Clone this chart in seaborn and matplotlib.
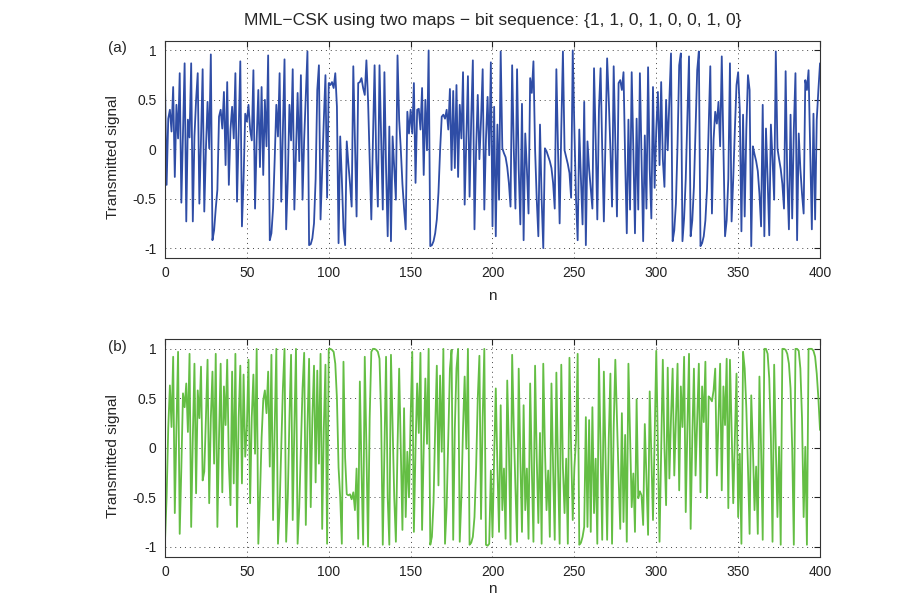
import numpy as np
import matplotlib
matplotlib.use("Agg")
import matplotlib.pyplot as plt
import seaborn as sns

# Transmitted MML-CSK samples, n = 0..400
signal_a = [
    0.67, -0.36, 0.31, 0.40, 0.18, 0.63, -0.28, 0.45, 0.11, 0.77,
    -0.54, 0.15, 0.87, -0.73, 0.30, 0.12, 0.87, -0.73, 0.13, 0.50,
    0.77, -0.55, 0.10, 0.81, -0.63, 0.00, 0.48, 0.01, 0.96, -0.92,
    -0.82, -0.60, -0.41, 0.33, 0.40, 0.21, 0.58, -0.16, 0.68, -0.36,
    0.20, 0.43, 0.11, 0.77, -0.53, 0.20, 0.89, -0.78, -0.30, 0.36,
    0.28, 0.45, 0.20, 0.09, 0.80, -0.60, 0.10, 0.60, -0.18, 0.63,
    -0.26, 0.50, 0.03, 0.95, -0.92,
    -0.85, -0.60, -0.10, 0.45, 0.13, 0.77, -0.53, 0.20, 0.91, -0.81,
    -0.30, 0.45, 0.09, 0.81, -0.61, 0.00, 0.57, -0.12, 0.75, -0.51,
    0.10, 0.55, 0.99, -0.97, -0.96, -0.90, -0.75, -0.30, 0.60, 0.85,
    -0.71, -0.20, 0.30, 0.75, -0.49, 0.67, 0.65, 0.68, 0.62, 0.77,
    0.43, -0.95, 0.13, -0.30, -0.80, -0.97, 0.08, -0.15, -0.35, -0.58,
    0.84, 0.10, -0.68, 0.67, 0.68, 0.72, 0.62, 0.55, 0.90, 0.50,
    -0.10, -0.71, 0.10, 0.85, -0.10, -0.58, 0.85,
    0.10, -0.61, 0.78, -0.20, -0.88, 0.23, -0.93, 0.13, -0.20, -0.51,
    0.95, 0.30, 0.00, -0.35, -0.60, -0.81, 0.38, 0.16, 0.40, 0.16,
    0.67, -0.34, 0.40, 0.41, 0.20, 0.62, -0.26, 0.50, -0.01, 1.00,
    -0.98, -0.97, -0.93, -0.85, -0.71, -0.44, -0.01, 0.33, 0.35, 0.31,
    0.40, 0.20, 0.61, -0.21, 0.59, -0.19, 0.65, -0.28, 0.45, 0.11,
    0.78, -0.56, 0.10, 0.74, -0.48, 0.30, 0.90, -0.81, 0.00, 0.55,
    -0.10, 0.30, 0.81, -0.61, 0.10, 0.53, -0.06, 0.88, -0.78, 0.43,
    -0.88, 0.25, -0.51, 0.99, 0.01, -0.04, -0.08, -0.18, -0.34, -0.58,
    0.85, 0.00, -0.60, 0.81, -0.20, -0.76, 0.46, -0.92, 0.16, -0.20,
    -0.65, 0.72, 0.57, 0.89, 0.00, -0.50, -0.88, 0.25, -0.50, -1.00,
    0.01, -0.02, -0.07, -0.12, -0.19, -0.34, -0.60, 0.81, 0.00, -0.75,
    0.20, 0.99, -0.01, -0.08, -0.15, -0.24, -0.49, 1.00, 0.20, -0.50,
    -0.92, 0.20, -0.30, -0.76, 0.48, -0.97, 0.08, -0.20, -0.40, -0.60,
    0.82, 0.10, -0.71, 0.40, 0.82, 0.00, -0.73,
    0.10, 0.92, 0.50, 0.00, -0.58, 0.84, 0.10, -0.68, 0.67, 0.70,
    0.60, 0.78, -0.10, -0.85, 0.30, -0.61, 0.78, 0.00, -0.85, 0.31,
    -0.61, 0.77, -0.10, -0.93, 0.14, -0.60, 0.83, -0.20, -0.70, 0.63,
    -0.39, 0.20, 0.58, -0.16, 0.68, -0.10, -0.38, 0.50, -0.01, 0.50,
    0.97, -0.93, -0.82, -0.55, 0.05, 0.85, 0.97, -0.93, -0.70, -0.30,
    0.30, 0.94, -0.88, -0.72, -0.38, 0.20, 0.80, 0.99, -0.98, -0.95,
    -0.88, -0.72, -0.40, 0.20, 0.84, -0.65,
    0.10, 0.38, 0.26, 0.48, 0.03, 0.94, 0.00, -0.88, -0.72, -0.30,
    0.87, -0.73, -0.30, 0.20, 0.65, 0.78, 0.40, -0.83, 0.35, -0.68,
    0.20, 0.75, 0.60, -0.98, 0.03, -0.05, -0.12, -0.22, -0.45, -0.78,
    0.45, -0.88, 0.21, -0.30, -0.87, 0.25, -0.10, -0.51, 0.99, 0.01,
    -0.10, -0.20, -0.35, -0.60, 0.79, -0.30, -0.81, 0.35, -0.70, 0.20,
    0.77, -0.92, 0.16, -0.20, -0.45, -0.65, 0.70, 0.60, 0.80, 0.00,
    -0.81, 0.36, -0.71, 0.30, 0.60, 0.87,
]

signal_b = [
    -0.95, -0.50, 0.20, 0.63, 0.21, 0.92, -0.66, 0.20, 0.97, -0.87,
    -0.20, 0.55, 0.41, 0.65, 0.16, 0.95, -0.80, 0.10, 0.85, -0.46,
    0.58, 0.30, 0.82, -0.33, -0.24, 0.30, 0.89, -0.56, 0.30, 0.77,
    -0.16, 0.95, -0.80, 0.10, 0.85, -0.45, 0.62, 0.23, 0.89, -0.16,
    -0.58, 0.77, -0.36, 0.95, -0.80, 0.30, 0.83, -0.36, 0.74, -0.09,
    0.20, 0.89, -0.56, 0.31, 0.74, -0.06, 1.00, -0.97, -0.50, 0.10,
    0.48, 0.58, 0.35, 0.77, -0.19, 0.94, -0.73,
    0.20, 1.00, -0.97, -0.60, 0.00, 0.60, 1.00, -0.95, -0.50, 0.30,
    0.94, -0.73, 0.20, 1.00, -0.97, -0.60, 0.00, 0.60, 0.96, -0.78,
    0.20, 0.90, -0.60, 0.30, 0.83, -0.35, 0.78, -0.16, 0.95, -0.82,
    0.20, 0.84, -0.97, 1.00, 1.00, 0.99, 0.97, 0.85, 0.50, -0.20,
    -0.50, -0.97, 0.87, -0.10, -0.47, -0.48, -0.47, -0.52, -0.45, -0.63,
    -0.21, -0.92, 0.67, -0.20, -0.98, 0.92, 0.00, -1.00, 0.30, 0.97,
    1.00, 1.00, 0.99, 0.97, 0.90, 0.30,
    -0.98, 0.00, 0.92, -0.50, -0.98, 0.94, 0.20, -0.50, -0.95, 0.00,
    0.80, 0.00, -0.83, 0.40, -0.70, -0.04, -0.50, 0.30, 0.97, -0.85,
    0.00, 0.65, 0.15, 0.96, -0.83, 0.00, 0.70, 0.04, 1.00, -0.98,
    -0.90, -0.55, 0.20, 0.83, -0.38, 0.73, -0.04, 1.00, -0.97, -0.60,
    0.10, 0.80, 0.99, -0.93, 0.20, 0.80, 1.00, -0.95, -0.50, 0.20,
    0.72, -0.01, 1.00, -0.98, -0.96, -0.90, -0.70, -0.20, 0.50, 0.93,
    -0.72, 0.30, 1.00, -0.98, -0.99, -0.97,
    -0.23, -0.90, -0.10, 0.60, -0.20, -0.85, 0.43, -0.63, -0.21, -0.92,
    0.68, 0.00, -0.98, 0.94, 0.20, -0.40, -0.95, 0.80, -0.10, -0.85,
    0.43, -0.63, -0.21, -0.92, 0.65, -0.20, -0.95, 0.83, -0.10, -0.76,
    0.15, -0.97, 0.85, 0.00, -0.63, -0.23, -0.90, 0.65, -0.20, -0.93,
    0.76, -0.20, -0.97, 0.84, -0.20, -0.66, -0.11, -0.97, 0.91, 0.00,
    -0.73, -0.20, 0.08, 0.95, -0.98, -0.96, -0.90, -0.80, 0.31, -0.80,
    0.28, -0.85, 0.41, -0.66, -0.11, -0.97, 0.90, 0.00, -0.93, 0.77,
    -0.10, -0.93, 0.10, 0.75, -0.97, 0.20, 0.89, 0.30, -0.30, -0.82,
    0.35, -0.75, 0.13, -0.95, 0.85, 0.10, -0.60, -0.26, -0.85, 0.49,
    -0.51, -0.44, -0.48, -0.78, 0.24, -0.30, -0.88, 0.57, -0.10, -0.73,
    0.09, 0.98, 0.00, -0.95, 0.00, 0.89, 0.00, -0.58, 0.81, -0.31,
    0.30, 0.80, -0.28, 0.30, 0.85, -0.43, 0.62, 0.21, 0.92, -0.65,
    0.20, 0.95, -0.82, 0.10, 0.80, -0.28, 0.30, 0.85, -0.45, 0.62,
    0.26, 0.87, -0.51, 0.52, 0.50, 0.47, 0.58,
    0.80, -0.28, 0.30, 0.85, -0.43, 0.62, 0.23, 0.90, -0.61, 0.89,
    0.20, -0.56, 0.10, 0.75, -0.70, -0.06, -0.97, 0.97, 0.80, 0.40,
    -0.20, -0.87, 0.53, 0.00, -0.63, -0.19, -0.87, 0.72, 0.00, -0.93,
    1.00, 1.00, 0.95, 0.70, 0.10, -0.95, 0.84, 0.00, -0.70, 0.01,
    -0.98, 1.00, 1.00, 0.99, 0.95, 0.85, 0.60, 0.00, -0.98, 1.00,
    1.00, 0.98, 0.80, 0.30, -0.70, 0.01, -0.98, 1.00, 1.00, 1.00,
    0.98, 0.92, 0.75, 0.50, 0.18,
]

x_ticks = [0, 50, 100, 150, 200, 250, 300, 350, 400]
y_ticks = [-1, -0.5, 0, 0.5, 1]
y_tick_labels = ["-1", "-0.5", "0", "0.5", "1"]
panel_tags = ["(a)", "(b)"]
title = "MML\u2212CSK using two maps \u2212 bit sequence: {1, 1, 0, 1, 0, 0, 1, 0}"

sns.set_style("white")
plt.rcParams["font.family"] = ["Liberation Sans", "DejaVu Sans"]
plt.rcParams["axes.unicode_minus"] = False

fig = plt.figure(figsize=(9.15, 5.95), dpi=100)
ax_a = fig.add_axes([0.1803, 0.5664, 0.7159, 0.3654])
ax_b = fig.add_axes([0.1803, 0.0645, 0.7159, 0.3658])

colors = ["#2f4da6", "#64be44"]
xlabel_y = [-0.143, -0.118]
for ax, sig, col, tag, ty, xly in zip([ax_a, ax_b], [signal_a, signal_b], colors,
                                      panel_tags, [48, 347], xlabel_y):
    n = np.arange(len(sig))
    sns.lineplot(x=n, y=sig, ax=ax, color=col, linewidth=1.3)
    ax.set_xlim(0, 400)
    ax.set_ylim(-1.1, 1.1)
    ax.set_xticks(x_ticks)
    ax.set_xticklabels([str(t) for t in x_ticks])
    ax.set_yticks(y_ticks)
    ax.set_yticklabels(y_tick_labels)
    ax.tick_params(direction="in", top=True, right=True, length=4,
                   width=0.8, labelsize=10, pad=6, colors="#222222")
    ax.grid(True, linestyle=(0, (1, 4)), color="#444444", linewidth=0.7)
    for s in ax.spines.values():
        s.set_color("#333333")
        s.set_linewidth(0.8)
    ax.set_ylabel("Transmitted signal", fontsize=11)
    ax.yaxis.set_label_coords(-0.068, 0.463)
    ax.set_xlabel("n", fontsize=11)
    ax.xaxis.set_label_coords(0.5, xly)
    fig.text(117 / 915, 1 - ty / 595, tag, fontsize=11, ha="center", va="center")

fig.text(493 / 915, 1 - 20 / 595, title, fontsize=12.6, ha="center", va="center")

fig.savefig("out.png", dpi=100)
